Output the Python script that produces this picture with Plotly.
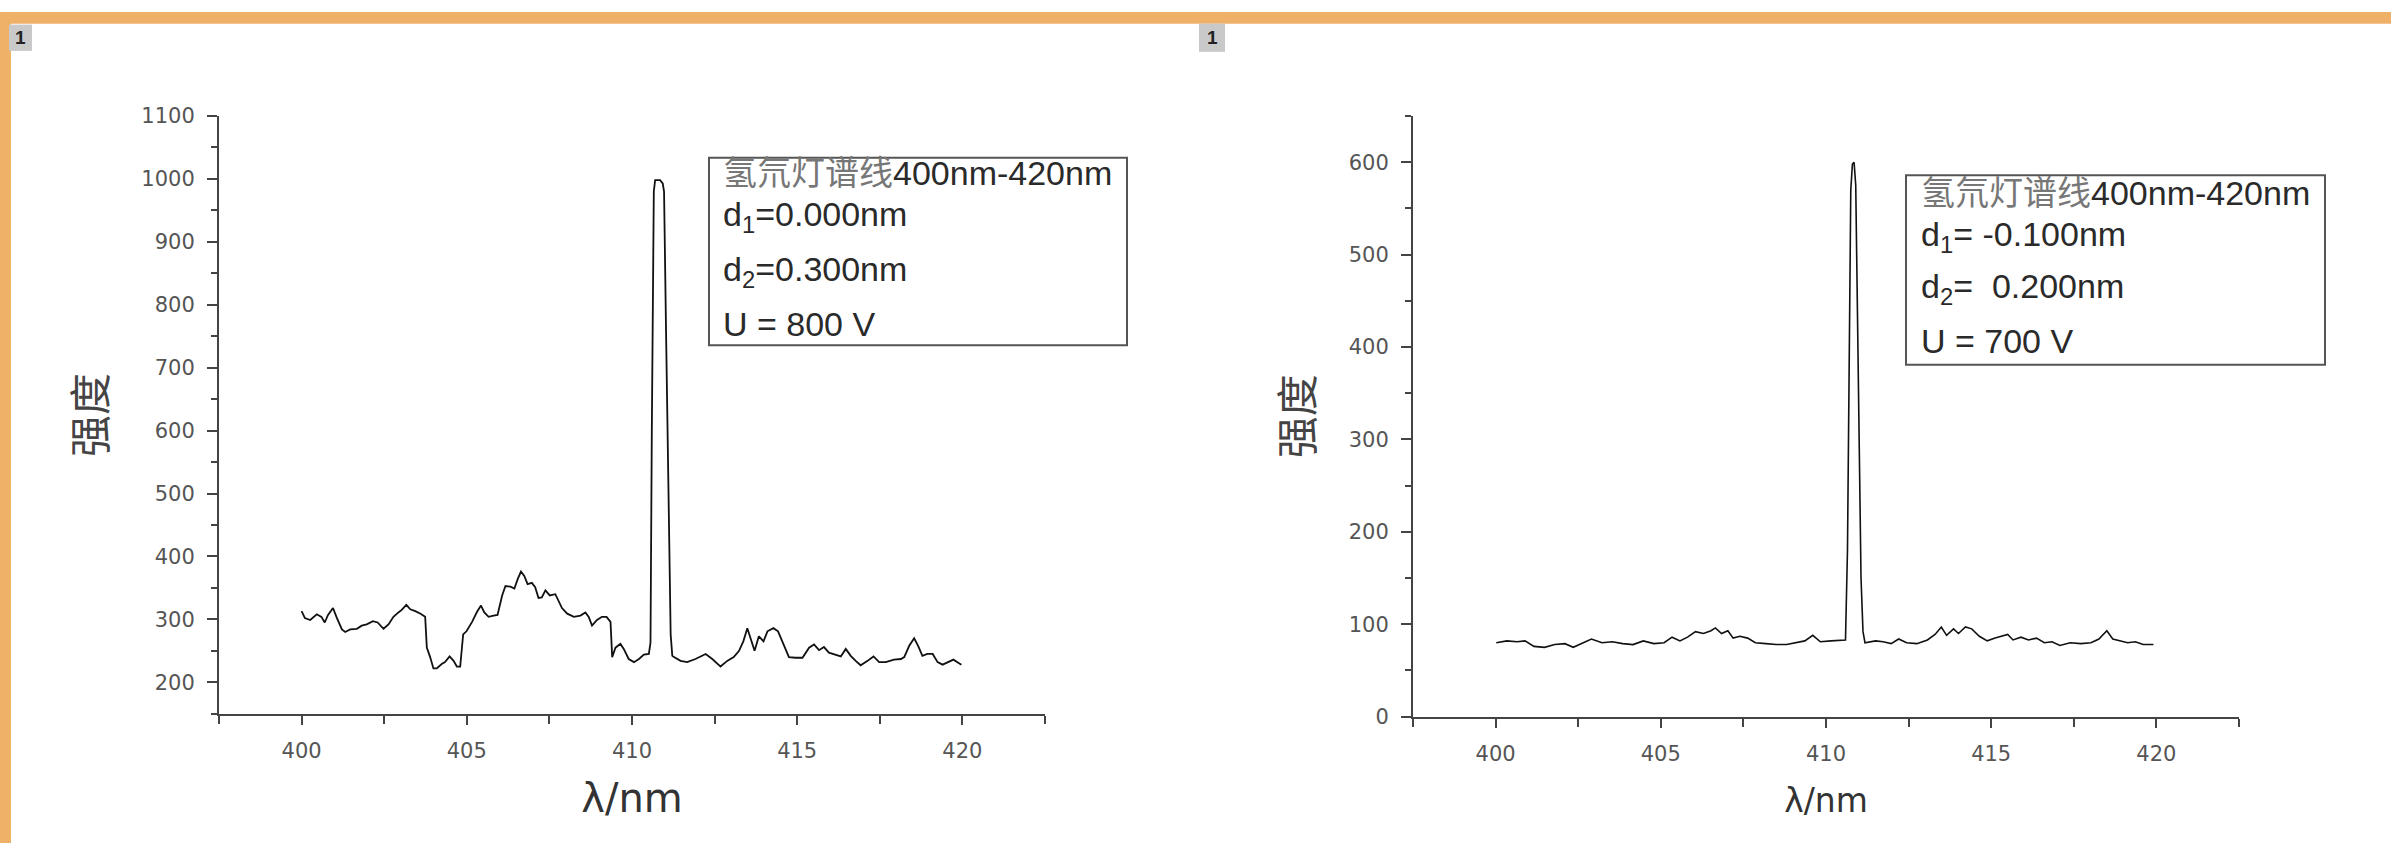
import plotly.graph_objects as go

# ---------------- data ----------------
wavelength_left = [400.00, 400.10, 400.26, 400.46, 400.60, 400.70, 400.80, 400.95, 401.07, 401.22,
                   401.32, 401.47, 401.67, 401.82, 401.97, 402.16, 402.30, 402.38, 402.48, 402.63,
                   402.78, 402.93, 403.03, 403.17, 403.29, 403.44, 403.60, 403.74, 403.79, 403.89,
                   403.99, 404.09, 404.24, 404.34, 404.48, 404.60, 404.70, 404.80, 404.89, 404.99,
                   405.16, 405.31, 405.43, 405.53, 405.66, 405.81, 405.93, 406.07, 406.17, 406.32,
                   406.44, 406.54, 406.64, 406.74, 406.84, 406.97, 407.07, 407.17, 407.27, 407.38,
                   407.51, 407.68, 407.78, 407.88, 408.04, 408.24, 408.44, 408.59, 408.69, 408.79,
                   408.94, 409.09, 409.23, 409.35, 409.40, 409.50, 409.65, 409.75, 409.90, 410.06,
                   410.21, 410.36, 410.51, 410.56, 410.60, 410.63, 410.66, 410.70, 410.85, 410.93,
                   410.97, 411.03, 411.08, 411.12, 411.17, 411.22, 411.27, 411.47, 411.67, 411.92,
                   412.23, 412.43, 412.68, 412.88, 413.08, 413.24, 413.37, 413.49, 413.59, 413.71,
                   413.84, 413.98, 414.10, 414.28, 414.42, 414.55, 414.75, 414.95, 415.16, 415.36,
                   415.51, 415.66, 415.81, 415.96, 416.17, 416.32, 416.47, 416.62, 416.77, 416.92,
                   417.13, 417.31, 417.48, 417.68, 417.93, 418.14, 418.24, 418.39, 418.54, 418.66,
                   418.79, 418.94, 419.10, 419.25, 419.40, 419.55, 419.73, 419.85, 419.97]
intensity_left = [313, 302, 299, 308, 304, 295, 307, 318, 302, 284,
                  280, 284, 285, 290, 292, 297, 295, 291, 285, 292,
                  304, 311, 315, 323, 316, 313, 309, 304, 255, 240,
                  222, 222, 229, 232, 241, 234, 225, 225, 276, 281,
                  296, 312, 322, 311, 304, 306, 307, 338, 353, 352,
                  349, 364, 376, 369, 356, 358, 351, 334, 335, 346,
                  338, 340, 330, 318, 309, 304, 306, 311, 304, 290,
                  299, 304, 304, 296, 240, 255, 261, 253, 237, 232,
                  237, 244, 245, 263, 600, 850, 980, 998, 998, 993,
                  980, 760, 560, 426, 276, 242, 240, 234, 232, 237,
                  245, 237, 225, 234, 240, 250, 265, 286, 270, 250,
                  273, 265, 281, 286, 281, 265, 240, 239, 239, 255,
                  260, 251, 256, 247, 244, 241, 253, 242, 234, 227,
                  234, 241, 232, 232, 236, 237, 240, 258, 270, 258,
                  242, 245, 245, 232, 228, 232, 236, 232, 228]

wavelength_right = [400.02, 400.34, 400.65, 400.89, 401.16, 401.48, 401.79, 402.10, 402.35, 402.62,
                    402.90, 403.22, 403.53, 403.85, 404.16, 404.47, 404.79, 405.10, 405.34, 405.58,
                    405.81, 406.05, 406.29, 406.52, 406.65, 406.84, 407.03, 407.19, 407.39, 407.63,
                    407.86, 408.18, 408.49, 408.81, 409.12, 409.36, 409.60, 409.83, 410.15, 410.46,
                    410.59, 410.65, 410.70, 410.75, 410.80, 410.85, 410.90, 410.95, 411.00, 411.06,
                    411.12, 411.18, 411.50, 411.73, 411.97, 412.20, 412.44, 412.75, 413.07, 413.30,
                    413.49, 413.65, 413.86, 414.01, 414.22, 414.41, 414.64, 414.88, 415.12, 415.35,
                    415.50, 415.66, 415.90, 416.13, 416.37, 416.61, 416.84, 417.08, 417.39, 417.71,
                    418.02, 418.26, 418.50, 418.68, 418.89, 419.13, 419.36, 419.60, 419.91]
intensity_right = [80, 82, 81, 82, 76, 75, 78, 79, 75, 79,
                   84, 80, 81, 79, 78, 82, 79, 80, 86, 82,
                   86, 92, 90, 93, 96, 90, 93, 85, 87, 85,
                   80, 79, 78, 78, 80, 82, 88, 81, 82, 83,
                   83, 180, 420, 570, 598, 600, 575, 430, 260, 150,
                   92, 80, 82, 81, 79, 84, 80, 79, 83, 89,
                   97, 88, 95, 90, 97, 95, 87, 82, 85, 87,
                   89, 83, 86, 83, 85, 80, 81, 77, 80, 79,
                   80, 84, 93, 84, 82, 80, 81, 78, 78]

x_ticks = [400, 405, 410, 415, 420]
legend_left = ["氢氘灯谱线400nm-420nm", "d<sub>1</sub>=0.000nm", "d<sub>2</sub>=0.300nm", "U = 800 V"]
legend_right = ["氢氘灯谱线400nm-420nm", "d<sub>1</sub>= -0.100nm", "d<sub>2</sub>= &nbsp;0.200nm", "U = 700 V"]

# ---------------- layout helpers ----------------
W, H = 2391, 855


def X(px):
    return px / W


def Y(py):
    return 1 - py / H


AX = "#444444"
TICKFONT = dict(family="DejaVu Sans", size=21, color="#555555")

fig = go.Figure()
fig.add_trace(go.Scatter(x=wavelength_left, y=intensity_left, mode="lines",
                         line=dict(color="#111111", width=1.8), xaxis="x", yaxis="y",
                         showlegend=False, hoverinfo="skip"))
fig.add_trace(go.Scatter(x=wavelength_right, y=intensity_right, mode="lines",
                         line=dict(color="#111111", width=1.6), xaxis="x2", yaxis="y2",
                         showlegend=False, hoverinfo="skip"))


def xaxis_cfg(domain, anchor, title_size, standoff):
    return dict(domain=domain, anchor=anchor, range=[397.5, 422.5],
                tickmode="array", tickvals=x_ticks, ticktext=[str(v) for v in x_ticks],
                ticks="outside", ticklen=9, tickwidth=2, tickcolor=AX,
                minor=dict(ticks="outside", tick0=397.5, dtick=5, ticklen=8, tickwidth=2, tickcolor=AX),
                showline=True, linecolor=AX, linewidth=2, mirror=False,
                showgrid=False, zeroline=False, tickfont=TICKFONT, ticklabelstandoff=8,
                title=dict(text="λ/nm", font=dict(family="DejaVu Sans", size=title_size, color="#333333"),
                           standoff=standoff))


def yaxis_cfg(domain, anchor, rng):
    return dict(domain=domain, anchor=anchor, range=rng,
                tickmode="linear", tick0=0, dtick=100,
                ticks="outside", ticklen=10, tickwidth=2, tickcolor=AX,
                minor=dict(ticks="outside", tick0=0, dtick=50, ticklen=6, tickwidth=2, tickcolor=AX),
                showline=True, linecolor=AX, linewidth=2, mirror=False,
                showgrid=False, zeroline=False, tickfont=TICKFONT, ticklabelstandoff=8,
                title=dict(text="强度", font=dict(family="Noto Sans CJK SC", size=42, color="#444444"),
                           standoff=22))


shapes = [
    # orange frame
    dict(type="rect", xref="paper", yref="paper", x0=X(0), x1=X(W), y0=Y(0), y1=Y(12),
         line=dict(width=0), fillcolor="#EFB068", layer="above"),
    dict(type="rect", xref="paper", yref="paper", x0=X(0), x1=X(11), y0=Y(0), y1=Y(H),
         line=dict(width=0), fillcolor="#EFB068", layer="above"),
    # panel number boxes
    dict(type="rect", xref="paper", yref="paper", x0=X(9), x1=X(32), y0=Y(13), y1=Y(40),
         line=dict(width=0), fillcolor="#C9C9C9"),
    dict(type="rect", xref="paper", yref="paper", x0=X(1199), x1=X(1225), y0=Y(12), y1=Y(41),
         line=dict(width=0), fillcolor="#C9C9C9"),
    # legend boxes
    dict(type="rect", xref="paper", yref="paper", x0=X(709), x1=X(1127), y0=Y(150), y1=Y(343),
         line=dict(color="#555555", width=2), fillcolor="rgba(0,0,0,0)"),
    dict(type="rect", xref="paper", yref="paper", x0=X(1906), x1=X(2325), y0=Y(168), y1=Y(363),
         line=dict(color="#555555", width=2), fillcolor="rgba(0,0,0,0)"),
]

annotations = [
    dict(text="<b>1</b>", xref="paper", yref="paper", x=X(20.5), y=Y(26.5), showarrow=False,
         font=dict(family="Liberation Sans", size=19, color="#222222"), xanchor="center", yanchor="middle"),
    dict(text="<b>1</b>", xref="paper", yref="paper", x=X(1212), y=Y(26.5), showarrow=False,
         font=dict(family="Liberation Sans", size=19, color="#222222"), xanchor="center", yanchor="middle"),
]

left_centers = [166, 210, 267, 321]
right_centers = [186, 231, 285, 339]
for lines, x0, centers in ((legend_left, 721, left_centers), (legend_right, 1919, right_centers)):
    for i, (txt, cy) in enumerate(zip(lines, centers)):
        if i == 0:
            parts = txt.split("线")
            t = ("<span style='color:#777777'>" + parts[0] + "线</span>" + parts[1])
        else:
            t = txt
        annotations.append(dict(text=t, xref="paper", yref="paper", x=X(x0), y=Y(cy),
                                showarrow=False, xanchor="left", yanchor="middle",
                                font=dict(family="Liberation Sans, Noto Sans CJK SC", size=34,
                                          color="#2a2a2a")))

fig.update_layout(
    width=W, height=H, autosize=False,
    margin=dict(l=0, r=0, t=0, b=0),
    paper_bgcolor="white", plot_bgcolor="white",
    xaxis=xaxis_cfg([X(219), X(1045)], "y", 40, 22),
    yaxis=yaxis_cfg([Y(722), Y(107)], "x", [150, 1100]),
    xaxis2=xaxis_cfg([X(1413), X(2239)], "y2", 33, 24),
    yaxis2=yaxis_cfg([Y(725), Y(107)], "x2", [0, 650]),
    shapes=shapes, annotations=annotations, showlegend=False,
)

fig.write_html("out.html")
